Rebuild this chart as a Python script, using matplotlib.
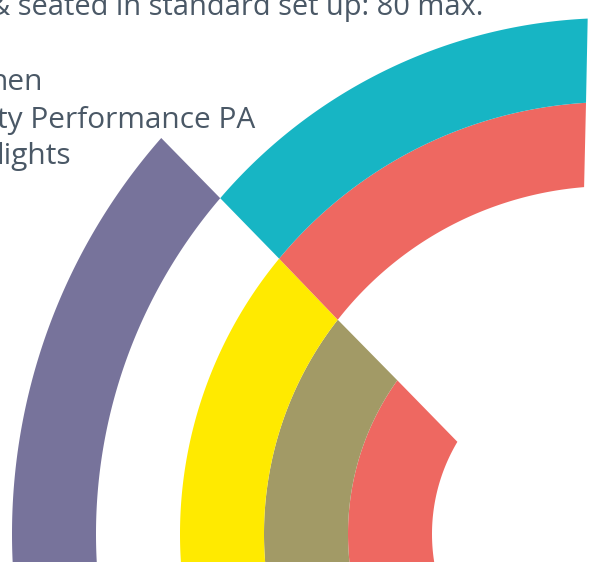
import matplotlib
import matplotlib.pyplot as plt
import numpy as np
from matplotlib.patches import Polygon

# radial bar rings, centre of the rings sits just right of the picture
W, H = 589, 562
cx, cy = 612, 534

# ring edges (px), inner -> outer
radii = [180, 264, 348, 432, 516, 600]
# angle (deg) of the split between left/right parts, at each ring edge
split_deg = [149.2, 144.4, 142.0, 140.4, 139.4, 138.7]
# angle where the right parts stop, at each ring edge
right_deg = [None, None, 94.6, 93.45, 92.7, None]
left_end = 200  # left parts run off the bottom

# colours per ring (inner -> outer), None = empty
left_colors = ["#ee6861", "#a29a66", "#ffea00", None, "#77739b"]
right_colors = [None, None, "#ee6861", "#17b5c4", None]

# text is cut by the left edge of the picture, as in the original
text_lines = ["& seated in standard set up: 80 max.", "hen",
              "ty Performance PA", "lights"]
text_right = [483, 43, 255, 71]       # right end of each line, px
text_base = [15, 90, 128, 164]        # baseline of each line, px
text_size = [20.9, 21.5, 21.5, 21.5]
text_color = "#4a5866"

plt.rcParams['font.family'] = ['Open Sans', 'DejaVu Sans']

fig = plt.figure(figsize=(W / 100, H / 100), dpi=100)
ax = fig.add_axes([0, 0, 1, 1])
ax.set_xlim(-cx, W - cx)
ax.set_ylim(cy - H, cy)
ax.axis('off')


def ring_part(r_in, r_out, a_in, a_out, b_in, b_out, n=200):
    t_out = np.radians(np.linspace(a_out, b_out, n))
    t_in = np.radians(np.linspace(b_in, a_in, n))
    xs = np.concatenate([r_out * np.cos(t_out), r_in * np.cos(t_in)])
    ys = np.concatenate([r_out * np.sin(t_out), r_in * np.sin(t_in)])
    return np.column_stack([xs, ys])


for i in range(len(radii) - 1):
    r_in, r_out = radii[i], radii[i + 1]
    if left_colors[i] is not None:
        pts = ring_part(r_in, r_out, split_deg[i], split_deg[i + 1],
                        left_end, left_end)
        ax.add_patch(Polygon(pts, closed=True, color=left_colors[i], lw=0))
    if right_colors[i] is not None:
        pts = ring_part(r_in, r_out, right_deg[i], right_deg[i + 1],
                        split_deg[i], split_deg[i + 1])
        ax.add_patch(Polygon(pts, closed=True, color=right_colors[i], lw=0))

for s, xr, yb, fs in zip(text_lines, text_right, text_base, text_size):
    ax.text(xr - cx, cy - yb, s, ha='right', va='baseline',
            fontsize=fs, color=text_color)

plt.savefig("out.png", dpi=100)
